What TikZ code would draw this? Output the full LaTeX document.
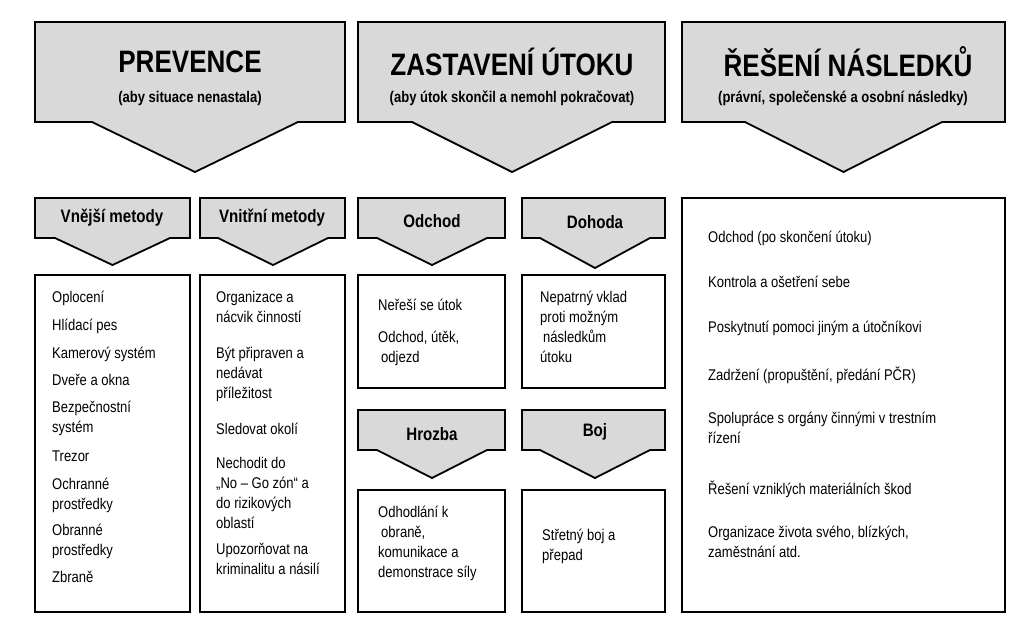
\documentclass[tikz,border=0pt]{standalone}
\usepackage{fontspec}
\setmainfont[FakeStretch=0.84]{Liberation Sans}
\begin{document}
\begin{tikzpicture}[x=1pt,y=-1pt,
  shp/.style={draw=black,line width=1.8pt,fill=gray!30,line join=miter},
  cbox/.style={draw=black,line width=1.8pt,fill=white},
  it/.style={anchor=north west,align=left,inner sep=0pt,font=\fontsize{15.5}{20}\selectfont},
  big/.style={font=\bfseries\fontsize{31}{33}\selectfont},
  sub/.style={font=\bfseries\fontsize{15.5}{17}\selectfont},
  hd/.style={font=\bfseries\fontsize{18}{20}\selectfont}]
\useasboundingbox (0,0) rectangle (1024,635);
\fill[white] (0,0) rectangle (1024,635);
\newcommand{\arrbox}[7]{\draw[shp] (#1,#3) -- (#2,#3) -- (#2,#4) -- (#6,#4) -- ({(#5+#6)/2},#7) -- (#5,#4) -- (#1,#4) -- cycle;}
% big arrows
\arrbox{35}{345}{22}{122}{92}{298}{172}
\arrbox{358}{665}{22}{122}{412}{612}{172}
\arrbox{682}{1005}{22}{122}{745}{942}{172}
\node[big] (p) at (190,62) {PREVENCE};
\node[sub] (ps) at (190,98) {(aby situace nenastala)};
\node[big] (z) at (512,62) {ZASTAVENÍ ÚTOKU};
\node[sub] (zs) at (512,98) {(aby útok skončil a nemohl pokračovat)};
\node[big] (r) at (848,62) {ŘEŠENÍ NÁSLEDKŮ};
\node[sub] (rs) at (843,98) {(právní, společenské a osobní následky)};
% small arrows
\arrbox{35}{190}{198}{238}{55}{170}{265}
\arrbox{200}{345}{198}{238}{218}{328}{265}
\arrbox{358}{505}{198}{238}{377}{487}{265}
\arrbox{522}{665}{198}{238}{540}{650}{268}
\arrbox{358}{505}{410}{450}{377}{487}{478}
\arrbox{522}{665}{410}{450}{540}{650}{478}
\node[hd] (h1) at (112,218) {Vnější metody};
\node[hd] (h2) at (272,218) {Vnitřní metody};
\node[hd] (h3) at (432,221) {Odchod};
\node[hd] (h4) at (595,222) {Dohoda};
\node[hd] (h5) at (432,434) {Hrozba};
\node[hd] (h6) at (595,432) {Boj};
% content boxes
\draw[cbox] (35,275) rectangle (190,612);
\draw[cbox] (200,275) rectangle (345,612);
\draw[cbox] (358,275) rectangle (505,388);
\draw[cbox] (522,275) rectangle (665,388);
\draw[cbox] (358,490) rectangle (505,612);
\draw[cbox] (522,490) rectangle (665,612);
\draw[cbox] (682,198) rectangle (1005,612);
% left items
\node[it] (a1) at (52,291) {Oplocení};
\node[it] (a2) at (52,319) {Hlídací pes};
\node[it] (a3) at (52,347) {Kamerový systém};
\node[it] (a4) at (52,374) {Dveře a okna};
\node[it] (a5) at (52,401) {Bezpečnostní\\systém};
\node[it] (a6) at (52,451) {Trezor};
\node[it] (a7) at (52,478) {Ochranné\\prostředky};
\node[it] (a8) at (52,524) {Obranné\\prostředky};
\node[it] (a9) at (52,571) {Zbraně};
% inner methods
\node[it] (b1) at (216,291) {Organizace a\\nácvik činností};
\node[it] (b2) at (216,347) {Být připraven a\\nedávat\\příležitost};
\node[it] (b3) at (216,423) {Sledovat okolí};
\node[it] (b4) at (216,457) {Nechodit do\\„No – Go zón“ a\\do rizikových\\oblastí};
\node[it] (b5) at (216,543) {Upozorňovat na\\kriminalitu a násilí};
% odchod, dohoda
\node[it] (c1) at (378,299) {Neřeší se útok};
\node[it] (c2) at (378,331) {Odchod, útěk,\\\hspace*{3pt}odjezd};
\node[it] (d1) at (540,291) {Nepatrný vklad\\proti možným\\\hspace*{3pt}následkům\\útoku};
% hrozba, boj
\node[it] (e1) at (378,506) {Odhodlání k\\\hspace*{3pt}obraně,\\komunikace a\\demonstrace síly};
\node[it] (f1) at (542,529) {Střetný boj a\\přepad};
% right
\node[it] (g1) at (708,231) {Odchod (po skončení útoku)};
\node[it] (g2) at (708,276) {Kontrola a ošetření sebe};
\node[it] (g3) at (708,321) {Poskytnutí pomoci jiným a útočníkovi};
\node[it] (g4) at (708,367) {Zadržení (propuštění, předání PČR)};
\node[it] (g5) at (708,412) {Spolupráce s orgány činnými v trestním\\řízení};
\node[it] (g6) at (708,481) {Řešení vzniklých materiálních škod};
\node[it] (g7) at (708,526) {Organizace života svého, blízkých,\\zaměstnání atd.};
\end{tikzpicture}
\end{document}
